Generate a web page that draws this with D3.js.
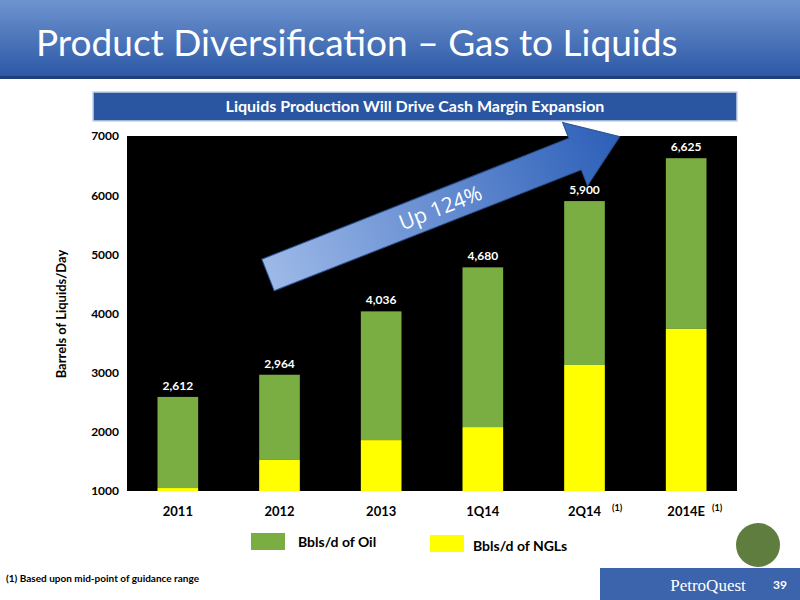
<!DOCTYPE html>
<html><head><meta charset="utf-8">
<script src="https://cdn.jsdelivr.net/npm/d3@7"></script>
<style>body{margin:0;background:#fff}svg{display:block;font-family:Lato,"Open Sans",sans-serif}</style>
</head><body>
<script>
var categories = ['2011', '2012', '2013', '1Q14', '2Q14', '2014E'];
var ngl = [1050, 1525, 1860, 2080, 3130, 3740];
var oil = [1540, 1440, 2176, 2700, 2770, 2885];
var totals = ['2,612', '2,964', '4,036', '4,680', '5,900', '6,625'];
var yTicks = [1000, 2000, 3000, 4000, 5000, 6000, 7000];

var svg = d3.select('body').append('svg').attr('width', 800).attr('height', 600);
var defs = svg.append('defs');

// Header gradient
var hg = defs.append('linearGradient').attr('id', 'hg').attr('x1', 0).attr('y1', 0).attr('x2', 0).attr('y2', 1);
hg.append('stop').attr('offset', 0).attr('stop-color', '#6e94cf');
hg.append('stop').attr('offset', 1).attr('stop-color', '#2c58a6');
svg.append('rect').attr('width', 800).attr('height', 76).attr('fill', 'url(#hg)');
svg.append('rect').attr('y', 76).attr('width', 800).attr('height', 3).attr('fill', '#1f3f7a');
svg.append('text').attr('x', 36).attr('y', 56).attr('fill', '#fff').attr('font-size', 37)
	.text('Product Diversification \u2013 Gas to Liquids');

// Subtitle box
svg.append('rect').attr('x', 93).attr('y', 92).attr('width', 644).attr('height', 29).attr('fill', '#2a55a0')
	.attr('stroke', '#c8d4ea').attr('stroke-width', 1.5);
svg.append('text').attr('x', 415).attr('y', 112).attr('text-anchor', 'middle').attr('fill', '#fff')
	.attr('font-size', 16).attr('font-weight', 'bold').text('Liquids Production Will Drive Cash Margin Expansion');

// Plot
var x = d3.scaleBand().domain(categories).range([127, 737]).paddingInner(0.6).paddingOuter(0.3);
var y = d3.scaleLinear().domain([1000, 7000]).range([491, 136]);
svg.append('rect').attr('x', 127).attr('y', 136).attr('width', 610).attr('height', 355).attr('fill', '#000');

var g = svg.append('g');
g.selectAll('.oil').data(categories).enter().append('rect')
	.attr('x', d => x(d)).attr('width', x.bandwidth())
	.attr('y', (d, i) => y(ngl[i] + oil[i]))
	.attr('height', (d, i) => y(ngl[i]) - y(ngl[i] + oil[i]))
	.attr('fill', '#7aad42');
g.selectAll('.ngl').data(categories).enter().append('rect')
	.attr('x', d => x(d)).attr('width', x.bandwidth())
	.attr('y', (d, i) => y(ngl[i]))
	.attr('height', (d, i) => y(1000) - y(ngl[i]))
	.attr('fill', '#ffff00');
g.selectAll('.tot').data(categories).enter().append('text')
	.attr('x', d => x(d) + x.bandwidth() / 2).attr('y', (d, i) => y(ngl[i] + oil[i]) - 7)
	.attr('text-anchor', 'middle').attr('fill', '#fff').attr('font-size', 12).attr('font-weight', 'bold')
	.text((d, i) => totals[i]);

var ya = svg.append('g').attr('transform', 'translate(127,0)')
	.call(d3.axisLeft(y).tickValues(yTicks).tickFormat(d3.format('d')).tickSize(0).tickPadding(8));
ya.select('.domain').remove();
ya.selectAll('text').attr('font-size', 12).attr('font-weight', 'bold').attr('fill', '#000').attr('font-family', null);

var xa = svg.append('g').attr('transform', 'translate(0,491)')
	.call(d3.axisBottom(x).tickSize(0).tickPadding(16));
xa.select('.domain').remove();
xa.selectAll('text').attr('font-size', 13).attr('font-weight', 'bold').attr('fill', '#000').attr('font-family', null);
xa.attr('font-family', null);
ya.attr('font-family', null);
svg.append('text').attr('x', 612).attr('y', 511).attr('font-size', 9).attr('font-weight', 'bold').text('(1)');
svg.append('text').attr('x', 712).attr('y', 511).attr('font-size', 9).attr('font-weight', 'bold').text('(1)');

svg.append('text').attr('transform', 'translate(66,314) rotate(-90)').attr('text-anchor', 'middle')
	.attr('font-size', 13).attr('font-weight', 'bold').text('Barrels of Liquids/Day');

// Arrow
var ag = defs.append('linearGradient').attr('id', 'ag').attr('x1', 0).attr('y1', 0).attr('x2', 1).attr('y2', 0);
ag.append('stop').attr('offset', 0).attr('stop-color', '#9db9e8');
ag.append('stop').attr('offset', 1).attr('stop-color', '#2c5fb8');
var ar = svg.append('g').attr('transform', 'translate(268,275) rotate(-21.5)');
ar.append('path').attr('d', 'M0,-17 L330,-17 L330,-34 L378,0 L330,34 L330,17 L0,17 Z')
	.attr('fill', 'url(#ag)').attr('stroke', '#2a4f90').attr('stroke-width', 1);
ar.append('text').attr('x', 185).attr('y', 8).attr('text-anchor', 'middle').attr('fill', '#fff')
	.attr('font-size', 21).style('font-family', 'Open Sans, sans-serif').text('Up 124%');

// Legend
svg.append('rect').attr('x', 251).attr('y', 533).attr('width', 34).attr('height', 17).attr('fill', '#7aad42');
svg.append('text').attr('x', 298).attr('y', 547).attr('font-size', 14).attr('font-weight', 'bold').text('Bbls/d of Oil');
svg.append('rect').attr('x', 430).attr('y', 535).attr('width', 34).attr('height', 17).attr('fill', '#ffff00');
svg.append('text').attr('x', 473).attr('y', 551).attr('font-size', 14).attr('font-weight', 'bold').text('Bbls/d of NGLs');

svg.append('text').attr('x', 6).attr('y', 582).attr('font-size', 10).attr('font-weight', 'bold')
	.text('(1) Based upon mid-point of guidance range');

// Footer
svg.append('rect').attr('x', 600).attr('y', 568).attr('width', 200).attr('height', 32).attr('fill', '#3b64ad');
svg.append('circle').attr('cx', 758).attr('cy', 545).attr('r', 22).attr('fill', '#5e7d3e');
svg.append('text').attr('x', 708).attr('y', 591).attr('text-anchor', 'middle').attr('fill', '#fff')
	.attr('font-size', 17).style('font-family', 'Liberation Serif, serif').text('PetroQuest');
svg.append('text').attr('x', 780).attr('y', 589).attr('text-anchor', 'middle').attr('fill', '#fff')
	.attr('font-size', 12).attr('font-weight', 'bold').text('39');
</script>
</body></html>
